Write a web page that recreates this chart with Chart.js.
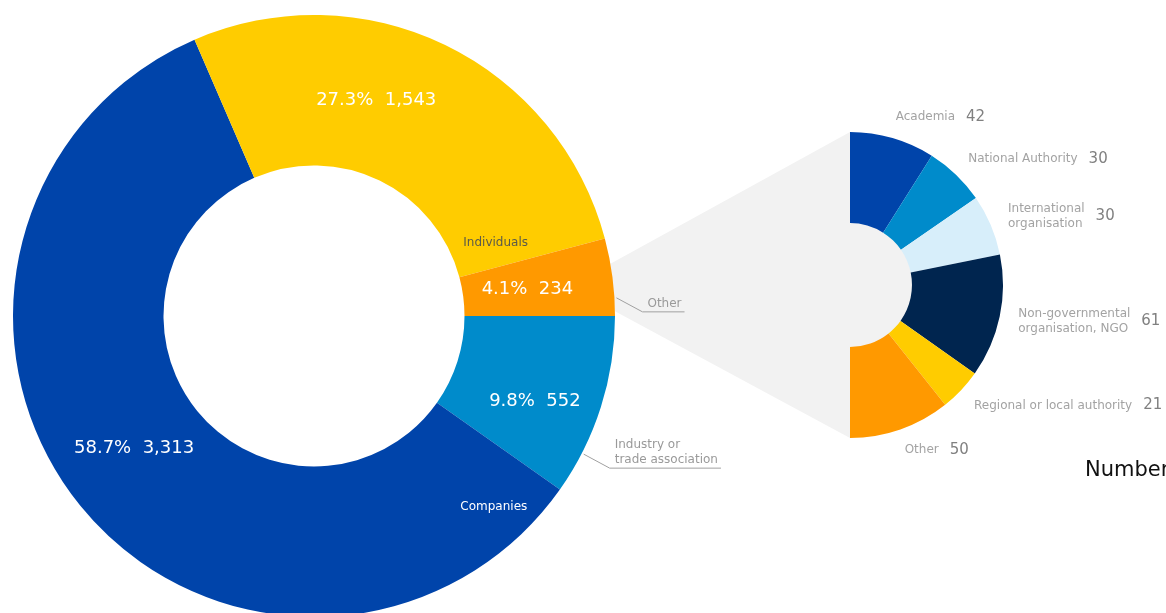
<!DOCTYPE html>
<html>
<head>
<meta charset="utf-8">
<script src="https://cdn.jsdelivr.net/npm/chart.js@4.4.1/dist/chart.umd.min.js"></script>
<style>
html, body { margin:0; padding:0; background:#fff; overflow:hidden; }
#wrap { position:relative; width:1166px; height:613px; overflow:hidden; }
#wrap canvas { position:absolute; left:0; top:0; }
#other_chart { z-index:1; }
#main_chart { z-index:2; }
</style>
</head>
<body>
<div id="wrap">
<canvas id="other_chart" width="1166" height="613"></canvas>
<canvas id="main_chart" width="1166" height="632"></canvas>
</div>
<script>
// main ring, clockwise from 3 o'clock
var mainNames = [["Industry or", "trade association"], ["Companies"], ["Individuals"], ["Other"]];
var mainValues = [552, 3313, 1543, 234];
var mainColors = ["#008bcb", "#0044aa", "#ffcc00", "#ff9900"];

// breakdown of "Other", clockwise from 12 o'clock
var otherNames = [["Academia"], ["National Authority"], ["International", "organisation"],
    ["Non-governmental", "organisation, NGO"], ["Regional or local authority"], ["Other"]];
var otherValues = [42, 30, 30, 61, 21, 50];
var otherColors = ["#0044aa", "#008bcb", "#d7eefa", "#00254f", "#ffcc00", "#ff9900"];

var FONT = "'DejaVu Sans', Verdana, sans-serif";

// where the texts sit inside each slice: [fraction along the arc, fraction across the ring]
var valuePlace = [[0.59, 0.57], [0.514, 0.48], [0.40, 0.50], [0.50, 0.43]];
var namePlace = [
    {out: true, f: 0.77},
    {f: 0.054, r: 0.74, color: "#ffffff"},
    {f: 0.93, r: 0.30, color: "#5a5a4a"},
    {out: true, f: 0.77}
];

function arcProps(arc) {
    return arc.getProps(["x", "y", "startAngle", "endAngle", "innerRadius", "outerRadius"], true);
}

function pointAt(a, ang, r) {
    return {x: a.x + Math.cos(ang) * r, y: a.y + Math.sin(ang) * r};
}

var mainLabels = {
    id: "mainLabels",
    afterDatasetsDraw: function(chart) {
        var ctx = chart.ctx;
        var arcs = chart.getDatasetMeta(0).data;
        var total = mainValues.reduce((s, v) => s + v, 0);
        ctx.save();
        ctx.textBaseline = "middle";
        arcs.forEach((arc, i) => {
            var a = arcProps(arc);
            var span = a.endAngle - a.startAngle;
            var vp = valuePlace[i];
            var p = pointAt(a, a.startAngle + span * vp[0], a.innerRadius + (a.outerRadius - a.innerRadius) * vp[1]);
            var txt = (mainValues[i] / total * 100).toFixed(1) + "%  " + mainValues[i].toLocaleString("en-US");
            ctx.font = "18px " + FONT;
            ctx.fillStyle = "#ffffff";
            ctx.textAlign = "center";
            ctx.fillText(txt, p.x, p.y + 1);

            var np = namePlace[i];
            var lines = mainNames[i];
            ctx.font = "12px " + FONT;
            if (np.out) {
                var s = pointAt(a, a.startAngle + span * np.f, a.outerRadius + 2);
                var ex = s.x + 26;
                var ey = s.y + 14;
                var w = Math.max.apply(null, lines.map(l => ctx.measureText(l).width));
                ctx.strokeStyle = "#a0a0a0";
                ctx.lineWidth = 1;
                ctx.beginPath();
                ctx.moveTo(s.x, s.y);
                ctx.lineTo(ex, ey);
                ctx.lineTo(ex + 5 + w + 3, ey);
                ctx.stroke();
                ctx.fillStyle = "#9a9a9a";
                ctx.textAlign = "left";
                lines.forEach((l, k) => {
                    ctx.fillText(l, ex + 5, ey - 8 - (lines.length - 1 - k) * 15);
                });
            } else {
                var q = pointAt(a, a.startAngle + span * np.f, a.innerRadius + (a.outerRadius - a.innerRadius) * np.r);
                ctx.fillStyle = np.color;
                ctx.textAlign = "center";
                ctx.fillText(lines[0], q.x, q.y);
            }
        });
        ctx.restore();
    }
};

var mainChart = new Chart(document.getElementById("main_chart"), {
    type: "doughnut",
    data: {
        labels: mainNames.map(x => x.join(" ")),
        datasets: [{
            data: mainValues,
            backgroundColor: mainColors,
            borderWidth: 0
        }]
    },
    options: {
        responsive: false,
        animation: false,
        events: [],
        rotation: 90,
        cutout: "50%",
        layout: {padding: {left: 13, top: 15, bottom: 15, right: 551}},
        plugins: {
            legend: {display: false},
            tooltip: {enabled: false}
        }
    },
    plugins: [mainLabels]
});

// grey wedge joining the "Other" slice to the breakdown
var connector = {
    id: "connector",
    beforeDatasetsDraw: function(chart) {
        var ctx = chart.ctx;
        var other = arcProps(mainChart.getDatasetMeta(0).data[3]);
        var span = other.endAngle - other.startAngle;
        var top = pointAt(other, other.startAngle + span * 0.33, other.outerRadius);
        var bot = pointAt(other, other.startAngle + span * 0.94, other.outerRadius);
        var first = arcProps(chart.getDatasetMeta(0).data[0]);
        ctx.save();
        ctx.fillStyle = "#f2f2f2";
        ctx.beginPath();
        ctx.moveTo(top.x, top.y);
        ctx.lineTo(first.x, first.y - first.outerRadius);
        ctx.lineTo(first.x, first.y + first.outerRadius);
        ctx.lineTo(bot.x, bot.y);
        ctx.closePath();
        ctx.fill();
        ctx.beginPath();
        ctx.arc(first.x, first.y, first.innerRadius + 1, -Math.PI / 2, Math.PI / 2);
        ctx.fill();
        ctx.restore();
    },
    afterDatasetsDraw: function(chart) {
        var ctx = chart.ctx;
        ctx.save();
        ctx.textBaseline = "middle";
        ctx.textAlign = "left";
        chart.getDatasetMeta(0).data.forEach((arc, i) => {
            var a = arcProps(arc);
            var mid = (a.startAngle + a.endAngle) / 2;
            var p = pointAt(a, mid, a.outerRadius + 22);
            var lines = otherNames[i];
            ctx.font = "12px " + FONT;
            ctx.fillStyle = "#a3a3a3";
            var w = Math.max.apply(null, lines.map(l => ctx.measureText(l).width));
            var x0 = p.x - 3;
            lines.forEach((l, k) => {
                ctx.fillText(l, x0, p.y + (k - (lines.length - 1) / 2) * 15);
            });
            ctx.font = "15px " + FONT;
            ctx.fillStyle = "#808080";
            ctx.fillText(otherValues[i], x0 + w + 11, p.y);
        });
        ctx.font = "21px " + FONT;
        ctx.fillStyle = "#111111";
        ctx.fillText("Number", 1085, 471);
        ctx.restore();
    }
};

var otherChart = new Chart(document.getElementById("other_chart"), {
    type: "doughnut",
    data: {
        labels: otherNames.map(x => x.join(" ")),
        datasets: [{
            data: otherValues,
            backgroundColor: otherColors,
            borderWidth: 0
        }]
    },
    options: {
        responsive: false,
        animation: false,
        events: [],
        rotation: 0,
        circumference: 180,
        cutout: "40.5%",
        layout: {padding: {left: 850, top: 132, bottom: 175, right: 163}},
        plugins: {
            legend: {display: false},
            tooltip: {enabled: false}
        }
    },
    plugins: [connector]
});
</script>
</body>
</html>
